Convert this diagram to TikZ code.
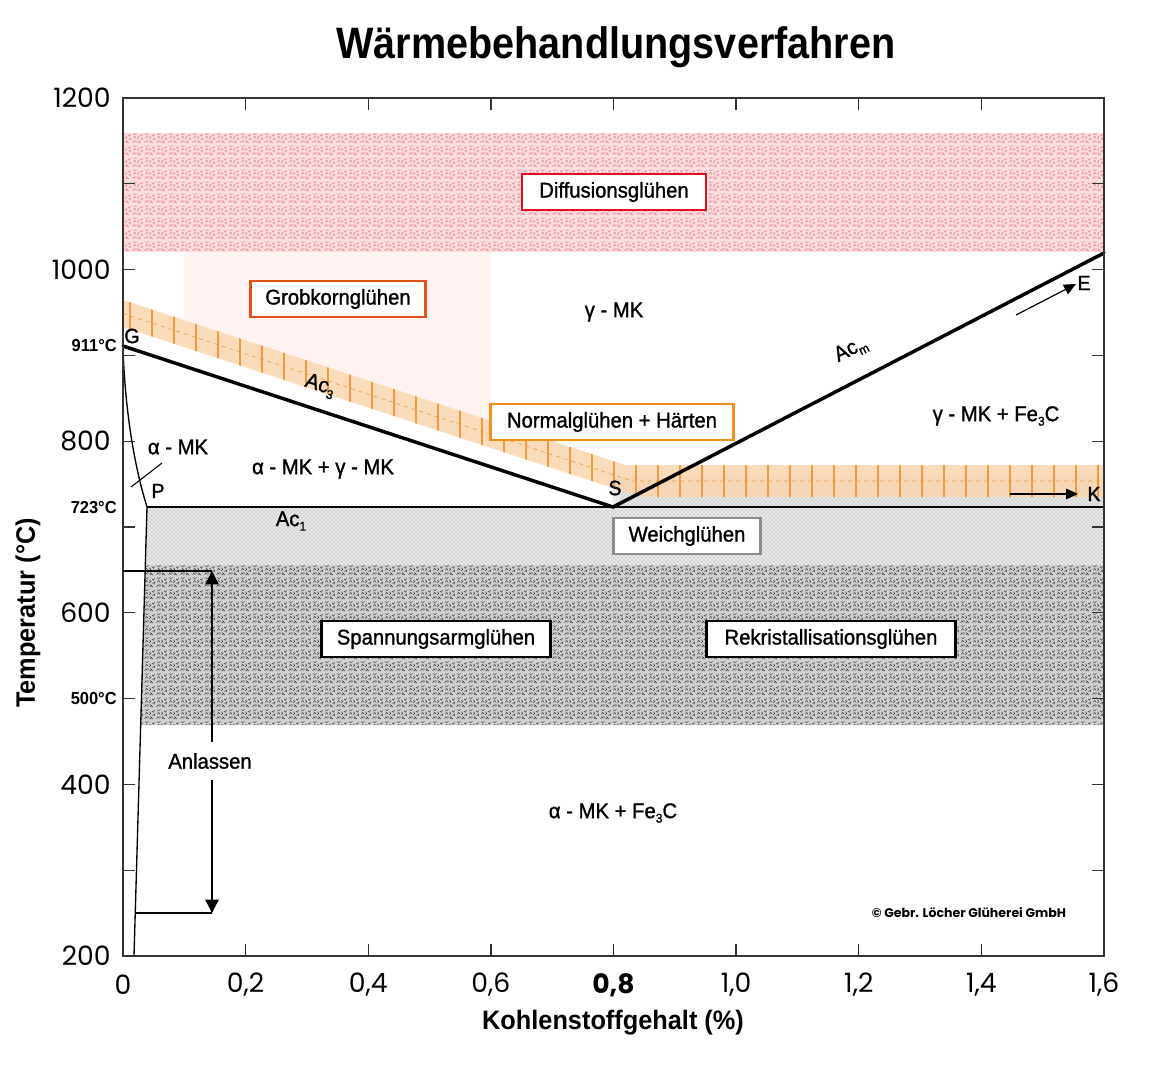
\documentclass[tikz,border=0pt]{standalone}
\usepackage{fontspec}
\setmainfont{Liberation Sans}
\newfontfamily\numfont{Poppins}
\newfontfamily\titlefont[FakeStretch=0.9]{Liberation Sans}
\newfontfamily\labfont[FakeStretch=0.95]{Liberation Sans}
\newfontfamily\medfont[FakeStretch=0.95,FakeBold=1.2]{Liberation Sans}
\usetikzlibrary{arrows.meta,patterns}
\definecolor{diffred}{HTML}{E2101E}
\definecolor{grobor}{HTML}{E8501A}
\definecolor{normor}{HTML}{F39019}
\definecolor{weichgr}{HTML}{8C8C8C}
\definecolor{redbase}{HTML}{FBDEE0}
\definecolor{redspeck}{HTML}{EC7A86}
\definecolor{lgbase}{HTML}{EAEAEA}
\definecolor{lgspeck}{HTML}{8A8A8A}
\definecolor{dgbase}{HTML}{D0D0D0}
\definecolor{dgspeck}{HTML}{404040}
\definecolor{orbase}{HTML}{FBD6AE}
\definecolor{orline}{HTML}{F39A3E}
\definecolor{grobbase}{HTML}{FEF3F0}
\definecolor{framecol}{HTML}{333333}
\pgfdeclarepatternformonly{speck}{\pgfqpoint{0pt}{0pt}}{\pgfqpoint{9pt}{9pt}}{\pgfqpoint{9pt}{9pt}}{%
\pgfsetlinewidth{0.4pt}
\pgfpathmoveto{\pgfqpoint{0.5pt}{1pt}}\pgfpathlineto{\pgfqpoint{1.5pt}{2.6pt}}\pgfpathlineto{\pgfqpoint{2.8pt}{1.2pt}}
\pgfpathmoveto{\pgfqpoint{4.5pt}{0.8pt}}\pgfpathlineto{\pgfqpoint{6.2pt}{1.6pt}}\pgfpathlineto{\pgfqpoint{4.8pt}{2.8pt}}
\pgfpathmoveto{\pgfqpoint{7pt}{3.5pt}}\pgfpathlineto{\pgfqpoint{8.5pt}{4.8pt}}\pgfpathlineto{\pgfqpoint{8.7pt}{3.0pt}}
\pgfpathmoveto{\pgfqpoint{1pt}{4.5pt}}\pgfpathlineto{\pgfqpoint{2.2pt}{6.2pt}}\pgfpathlineto{\pgfqpoint{3.3pt}{4.6pt}}
\pgfpathmoveto{\pgfqpoint{4.2pt}{4.2pt}}\pgfpathlineto{\pgfqpoint{5.6pt}{5.2pt}}\pgfpathlineto{\pgfqpoint{4.4pt}{6.6pt}}
\pgfpathmoveto{\pgfqpoint{6.5pt}{7.5pt}}\pgfpathlineto{\pgfqpoint{7.6pt}{6.2pt}}\pgfpathlineto{\pgfqpoint{8.6pt}{7.8pt}}
\pgfpathmoveto{\pgfqpoint{0.8pt}{8.3pt}}\pgfpathlineto{\pgfqpoint{2.4pt}{7.6pt}}\pgfpathlineto{\pgfqpoint{3.6pt}{8.6pt}}
\pgfpathmoveto{\pgfqpoint{6.0pt}{2.2pt}}\pgfpathlineto{\pgfqpoint{7.2pt}{0.6pt}}
\pgfpathmoveto{\pgfqpoint{2.8pt}{3.2pt}}\pgfpathlineto{\pgfqpoint{3.8pt}{2.0pt}}
\pgfusepath{stroke}}
\newcommand\mysub[1]{\raisebox{-0.4ex}{\fontsize{9.5}{9.5}\selectfont #1}}
\tikzset{
  boxlab/.style={draw, line width=2pt, fill=white, minimum height=27pt, inner sep=0pt,
    font=\medfont\fontsize{16}{19}\selectfont},
  lab/.style={font=\medfont\fontsize{16}{19}\selectfont, inner sep=1pt},
  pointlab/.style={font=\medfont\fontsize{15.5}{18}\selectfont, inner sep=0pt},
  numlab/.style={font=\numfont\fontsize{20}{24}\selectfont, inner sep=0pt},
  templab/.style={font=\labfont\bfseries\fontsize{13}{15}\selectfont, inner sep=0pt, anchor=east},
  axtitle/.style={font=\labfont\bfseries\fontsize{20}{24}\selectfont, inner sep=0pt},
  phaseline/.style={line width=2.6pt, line cap=round},
  thinline/.style={line width=0.9pt},
  tri/.style={-{Triangle[length=10pt,width=10pt]}},
  smalltri/.style={-{Triangle[length=9pt,width=8pt]}},
}
\begin{document}
\begin{tikzpicture}[x=0.75pt,y=-0.75pt]
\useasboundingbox[fill=white] (0,0) rectangle (1166,1080);
% ---------- regions ----------
% Diffusionsgluehen band
\fill[redbase] (123,133) rectangle (1104,252);
\path[pattern=speck, pattern color=redspeck] (123,133) rectangle (1104,252);
% Grobkorngluehen region
\fill[grobbase] (184,252) -- (490,252) -- (490,421) -- (184,320) -- cycle;
% Weichgluehen (light gray)
\fill[lgbase] (147,507) -- (1104,507) -- (1104,565) -- (145.3,565) -- cycle;
\fill[lgbase] (613,477) rectangle (1104,507);
\path[pattern=crosshatch dots, pattern color=lgspeck] (147,507) -- (1104,507) -- (1104,565) -- (145.3,565) -- cycle;
\path[pattern=crosshatch dots, pattern color=lgspeck] (620,477) rectangle (1104,507);
% Spannungsarm / Rekristallisation (dark gray)
\fill[dgbase] (145.3,565) -- (1104,565) -- (1104,725) -- (140.6,725) -- cycle;
\path[pattern=speck, pattern color=dgspeck] (145.3,565) -- (1104,565) -- (1104,725) -- (140.6,725) -- cycle;
% Normalgluehen band (orange)
\fill[orbase, opacity=0.85] (123,300) -- (625,465) -- (1104,465) -- (1104,497) -- (640,497) -- (123,327) -- cycle;
\begin{scope}
  \clip (123,300) -- (625,465) -- (1104,465) -- (1104,497) -- (640,497) -- (123,327) -- cycle;
  \foreach \xx in {130,152,...,1104} \draw[orline, line width=0.8pt] (\xx,290) -- (\xx,510);
  \draw[orline, line width=0.5pt, dashed] (123,313.5) -- (632,481) -- (1104,481);
\end{scope}
% ---------- phase lines ----------
\coordinate (G) at (123,346);
\coordinate (S) at (613,507);
\coordinate (E) at (1104,253);
\coordinate (P) at (147,507);
\coordinate (K) at (1104,507);
\coordinate (B) at (134,956);
\draw[phaseline] (G) -- (S) -- (E);
\draw[line width=1.8pt] (P) -- (K);
\draw[line width=1pt] (123,347) .. controls (125,410) and (134,465) .. (P) -- (B);
% ---------- frame and ticks ----------
\draw[framecol, line width=1.1pt] (123,98) rectangle (1104,956);
\foreach \t in {300,400,...,1100} {
  \draw[framecol, line width=1pt] (123,{956-(\t-200)*0.858}) -- ++(12,0);
  \draw[framecol, line width=1pt] (1104,{956-(\t-200)*0.858}) -- ++(-12,0);
}
\foreach \c in {0.2,0.4,0.6,0.8,1.0,1.2,1.4} {
  \draw[framecol, line width=1pt] ({123+613.125*\c},956) -- ++(0,-12);
  \draw[framecol, line width=1pt] ({123+613.125*\c},98) -- ++(0,12);
}
% axis numbers
\node[numlab, anchor=east] (y1200) at (111,98) {1200};
\node[numlab, anchor=east] (y1000) at (111,270) {1000};
\node[numlab, anchor=east] (y800) at (111,441) {800};
\node[numlab, anchor=east] (y600) at (111,613) {600};
\node[numlab, anchor=east] (y400) at (111,785) {400};
\node[numlab, anchor=east] (y200) at (111,956) {200};
\node[templab] (t911) at (117,346) {911°C};
\node[templab] (t723) at (117,508) {723°C};
\node[templab] (t500) at (117,699) {500°C};
\node[numlab] (x0) at (123,985) {0};
\node[numlab] (x02) at (245.6,985) {0,2};
\node[numlab] (x04) at (368.3,985) {0,4};
\node[numlab] (x06) at (490.9,985) {0,6};
\node[numlab, font=\numfont\bfseries\fontsize{20}{24}\selectfont] (x08) at (613.5,985) {0,8};
\node[numlab] (x10) at (736.1,985) {1,0};
\node[numlab] (x12) at (858.8,985) {1,2};
\node[numlab] (x14) at (981.4,985) {1,4};
\node[numlab] (x16) at (1104,985) {1,6};
% titles
\node[font=\titlefont\bfseries\fontsize{33}{38}\selectfont, inner sep=0pt] (title) at (616,47) {Wärmebehandlungsverfahren};
\node[axtitle] (xtitle) at (613,1023) {Kohlenstoffgehalt (\%)};
\node[axtitle, rotate=90] (ytitle) at (28,613) {Temperatur (°C)};
% ---------- boxes ----------
\node[boxlab, draw=diffred, minimum width=138pt] (diff) at (614,192) {Diffusionsglühen};
\node[boxlab, draw=grobor, minimum width=131pt] (grob) at (338,299) {Grobkornglühen};
\node[boxlab, draw=normor, minimum width=182pt] (norm) at (612,422) {Normalglühen + Härten};
\node[boxlab, draw=weichgr, minimum width=110pt] (weich) at (687,536) {Weichglühen};
\node[boxlab, draw=black, minimum width=172pt] (spann) at (436,639) {Spannungsarmglühen};
\node[boxlab, draw=black, minimum width=187pt] (rekr) at (831,639) {Rekristallisationsglühen};
% ---------- phase labels ----------
\node[lab] (gmk) at (614,312) {γ - MK};
\node[lab] (gmkfe) at (996,416) {γ - MK + Fe\mysub{3}C};
\node[lab] (amk) at (178,447) {α - MK};
\node[lab] (amkgmk) at (323,469) {α - MK + γ - MK};
\node[lab] (amkfe) at (613,813) {α - MK + Fe\mysub{3}C};
\node[lab, rotate=-18] (ac3) at (320,386) {Ac\mysub{3}};
\node[lab, rotate=27.4] (acm) at (851,350) {Ac\mysub{m}};
\node[lab] (ac1) at (291,521) {Ac\mysub{1}};
\node[pointlab] (Glab) at (132,336) {G};
\node[pointlab] (Plab) at (158,491) {P};
\node[pointlab] (Slab) at (615,488) {S};
\node[pointlab] (Elab) at (1084,283) {E};
\node[pointlab] (Klab) at (1094,494) {K};
\coordinate (amkA) at (162,463);
\coordinate (amkB) at (131,487);
\draw[line width=0.8pt] (amkA) -- (amkB);
% E and K arrows
\coordinate (eS) at (1016,315);
\coordinate (eT) at (1076,284);
\draw[thinline, smalltri] (eS) -- (eT);
\coordinate (kS) at (1010,494);
\coordinate (kT) at (1078,494);
\draw[thinline, smalltri] (kS) -- (kT);
% ---------- Anlassen ----------
\node[lab] (anl) at (210,761) {Anlassen};
\coordinate (anlTopL) at (123,571);
\coordinate (anlTop) at (212,571);
\coordinate (anlBotL) at (135.2,913);
\coordinate (anlBot) at (212,913);
\draw[line width=1.6pt] (anlTopL) -- (anlTop);
\draw[line width=1.6pt] (anlBotL) -- (anlBot);
\draw[thinline, tri] (212,742) -- (anlTop);
\draw[thinline, tri] (212,780) -- (anlBot);
% copyright
\node[font=\numfont\bfseries\fontsize{9.4}{11}\selectfont, inner sep=0pt] (copy) at (969,913) {© Gebr. Löcher Glüherei GmbH};
\end{tikzpicture}
\end{document}
